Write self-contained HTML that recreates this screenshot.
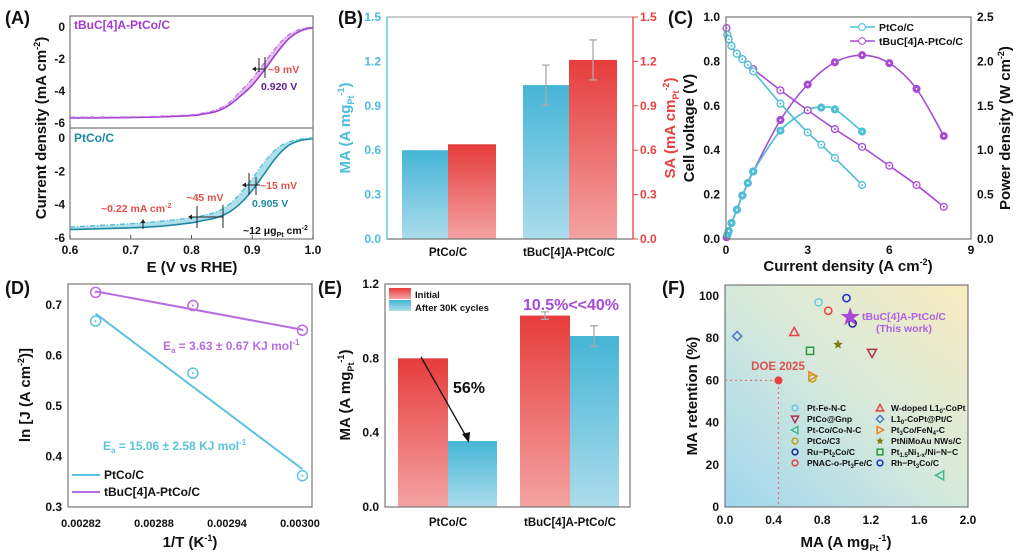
<!DOCTYPE html>
<html><head><meta charset="utf-8"><style>
html,body{margin:0;padding:0;background:#fff}
svg{display:block;font-family:"Liberation Sans",Arial,sans-serif;font-weight:bold}
</style></head><body>
<svg id="fig" width="1020" height="553" viewBox="0 0 1020 553" xmlns="http://www.w3.org/2000/svg">
<defs>
<linearGradient id="gBlue" x1="0" y1="0" x2="0" y2="1"><stop offset="0" stop-color="#45b5d6"/><stop offset="1" stop-color="#acdcec"/></linearGradient>
<linearGradient id="gRed" x1="0" y1="0" x2="0" y2="1"><stop offset="0" stop-color="#e63c3c"/><stop offset="1" stop-color="#f4a3a3"/></linearGradient>
<linearGradient id="gF" x1="0" y1="1" x2="1" y2="0"><stop offset="0" stop-color="#9fd6ee"/><stop offset="0.5" stop-color="#d6e9dc"/><stop offset="1" stop-color="#f8ecc0"/></linearGradient>
</defs>
<g id="root"></g>
</svg>
<script>
// ---------- data ----------
const aE = [0.6,0.7,0.75,0.8,0.82,0.84,0.86,0.88,0.9,0.92,0.94,0.96,0.98,1.0];
const aTopSolid = [-5.75,-5.72,-5.68,-5.6,-5.5,-5.35,-5.0,-4.4,-3.7,-2.75,-1.7,-0.8,-0.3,-0.1];
const aTopDash  = [-5.7,-5.68,-5.63,-5.55,-5.43,-5.25,-4.85,-4.1,-3.3,-2.3,-1.3,-0.55,-0.2,-0.05];
const aBotSolid = [-5.55,-5.45,-5.35,-5.15,-5.0,-4.85,-4.55,-4.0,-3.2,-2.2,-1.2,-0.5,-0.2,-0.1];
const aBotDash  = [-5.4,-5.2,-5.05,-4.85,-4.7,-4.5,-4.1,-3.4,-2.5,-1.5,-0.7,-0.3,-0.12,-0.05];
const bCats = ["PtCo/C","tBuC[4]A-PtCo/C"];
const bMA = [0.60,1.04];
const bSA = [0.64,1.21];
const bMAerr = [0,0.135];
const bSAerr = [0,0.135];
const cI_Pt = [0.05,0.1,0.2,0.4,0.6,0.8,1,2,3,3.5,4,5];
const cV_Pt = [0.92,0.9,0.87,0.835,0.81,0.785,0.755,0.61,0.48,0.425,0.365,0.243];
const cP_Pt = [0.05,0.09,0.18,0.33,0.49,0.63,0.76,1.22,1.45,1.48,1.46,1.21];
const cI_Bu = [0.02,0.05,0.1,0.2,0.4,0.6,0.8,1,2,3,4,5,6,7,8];
const cV_Bu = [0.95,0.92,0.9,0.87,0.835,0.81,0.785,0.765,0.67,0.58,0.495,0.415,0.33,0.243,0.145];
const cP_Bu = [0.02,0.05,0.09,0.18,0.33,0.49,0.63,0.76,1.34,1.74,1.99,2.07,1.98,1.69,1.16];
const dT = [0.002832,0.002912,0.003002];
const dPt = [0.668,0.565,0.362];
const dBu = [0.725,0.699,0.65];
const dFitPt = [0.683,0.375];
const dFitBu = [0.727,0.651];
const eCats = ["PtCo/C","tBuC[4]A-PtCo/C"];
const eInit = [0.80,1.03];
const eAfter = [0.355,0.92];
const eInitErr = [0,0.02];
const eAfterErr = [0,0.055];
const fNames = ["Pt-Fe-N-C","PNAC-o-Pt3Fe/C","Rh-Pt3Co/C","Ru-Pt2Co/C","W-doped L10-CoPt","L10-CoPt@Pt/C","PtNiMoAu NWs/C","Pt1.5Ni/Ni-N-C","PtCo@Gnp","Pt3Co/FeN4-C","PtCo/C3","Pt-Co/Co-N-C"];
const fMA  = [0.77,0.85,1.0,1.05,0.57,0.1,0.93,0.70,1.21,0.72,0.72,1.77];
const fRet = [97,93,99,87,83,81,77,74,73,62,61,15];
const fStar = [1.03,90];
const fDOE = [0.44,60];

// ---------- helpers ----------
const NS="http://www.w3.org/2000/svg";
const root=document.getElementById('root');
function mk(tag,attrs,name){
  const e=document.createElementNS(NS,tag);
  for(const k in attrs) e.setAttribute(k,attrs[k]);
  
  
  root.appendChild(e);
  return e;
}
function txt(x,y,s,name,o){
  o=o||{};
  const t=mk('text',{x:x,y:y,'font-size':o.fs||12,fill:o.fill||'#111','text-anchor':o.anchor||'middle'},name);
  if(o.rot) t.setAttribute('transform','rotate('+o.rot+' '+x+' '+y+')');
  t.innerHTML=s; return t;
}
function smooth(pts){
  let d='M'+pts[0][0]+','+pts[0][1];
  for(let i=0;i<pts.length-1;i++){
    const p0=pts[i-1]||pts[i],p1=pts[i],p2=pts[i+1],p3=pts[i+2]||p2;
    const c1=[p1[0]+(p2[0]-p0[0])/6,p1[1]+(p2[1]-p0[1])/6];
    const c2=[p2[0]-(p3[0]-p1[0])/6,p2[1]-(p3[1]-p1[1])/6];
    d+=' C'+c1[0]+','+c1[1]+' '+c2[0]+','+c2[1]+' '+p2[0]+','+p2[1];
  }
  return d;
}
function frame(x1,y1,x2,y2,name){mk('rect',{x:x1,y:y1,width:x2-x1,height:y2-y1,fill:'none',stroke:'#777','stroke-width':1.2},name);}
const SUP=s=>'<tspan dy="-6" font-size="9">'+s+'</tspan><tspan dy="6">';
const MAT='MA (A mg<tspan dy="4" font-size="9">Pt</tspan><tspan dy="-10" font-size="9">-1</tspan><tspan dy="6">)</tspan>';

// ---------- Panel A ----------
const xA=e=>70+(e-0.6)/0.4*243;
const yAt=j=>26-j*16;
const yAb=j=>137-j*16.67;
txt(5,24,'(A)','panel-a-label',{fs:18,anchor:'start'});
const topS=aE.map((e,i)=>[xA(e),yAt(aTopSolid[i])]);
const topD=aE.map((e,i)=>[xA(e),yAt(aTopDash[i])]);
const botS=aE.map((e,i)=>[xA(e),yAb(aBotSolid[i])]);
const botD=aE.map((e,i)=>[xA(e),yAb(aBotDash[i])]);
mk('path',{d:smooth(topD)+' L'+smooth(topS.slice().reverse()).slice(1),fill:'#d9a6ee',opacity:0.7},'top-shaded-region');
mk('path',{d:smooth(botD)+' L'+smooth(botS.slice().reverse()).slice(1),fill:'#8fd2e4',opacity:0.7},'bottom-shaded-region');
mk('path',{d:smooth(topS),fill:'none',stroke:'#a23cd0','stroke-width':1.6},'tbuc-lsv-initial');
mk('path',{d:smooth(topD),fill:'none',stroke:'#c070e0','stroke-width':1.3,'stroke-dasharray':'5,2,1,2'},'tbuc-lsv-after');
mk('path',{d:smooth(botS),fill:'none',stroke:'#1f8aa6','stroke-width':1.6},'ptco-lsv-initial');
mk('path',{d:smooth(botD),fill:'none',stroke:'#4bbdd8','stroke-width':1.3,'stroke-dasharray':'5,2,1,2'},'ptco-lsv-after');
frame(70,16,313,239,'panel-a-frame');
mk('line',{x1:70,y1:128,x2:313,y2:128,stroke:'#777','stroke-width':1.2},'panel-a-divider');
[0.6,0.7,0.8,0.9,1.0].forEach(v=>{mk('line',{x1:xA(v),y1:239,x2:xA(v),y2:235,stroke:'#555'},'a-xtick');txt(xA(v),254,v.toFixed(1),'a-xtick-label',{fs:12});});
[0,-2,-4,-6].forEach(v=>{txt(65,yAt(v)+5,v,'a-top-ytick-label',{fs:12,anchor:'end'});txt(65,yAb(v)+5,v,'a-bot-ytick-label',{fs:12,anchor:'end'});});
txt(192,272,'E (V vs RHE)','a-x-axis-title',{fs:15});
txt(46,128,'Current density (mA cm'+SUP('-2')+')</tspan>','a-y-axis-title',{fs:15,rot:-90});
txt(74,29,'tBuC[4]A-PtCo/C','a-top-series-label',{fs:12,fill:'#a23cd0',anchor:'start'});
txt(74,142,'PtCo/C','a-bottom-series-label',{fs:12,fill:'#1f8aa6',anchor:'start'});
[[259,58,259,72],[265,57,265,78],[249,173,249,195],[256,177,256,195],[197,206,197,228],[223,205,223,228]].forEach(l=>mk('line',{x1:l[0],y1:l[1],x2:l[2],y2:l[3],stroke:'#222','stroke-width':1},'a-marker-line'));
mk('line',{x1:265,y1:69,x2:254,y2:69,stroke:'#222'},'a-shift-arrow');
mk('path',{d:'M252,69 l4,-2.5 v5 z',fill:'#222'},'a-arrowhead');
mk('line',{x1:260,y1:185,x2:244,y2:185,stroke:'#222'},'a-shift-arrow');
mk('path',{d:'M242,185 l4,-2.5 v5 z',fill:'#222'},'a-arrowhead');
mk('line',{x1:223,y1:217,x2:190,y2:217,stroke:'#222'},'a-shift-arrow');
mk('path',{d:'M188,217 l4,-2.5 v5 z',fill:'#222'},'a-arrowhead');
mk('line',{x1:143,y1:229,x2:143,y2:222,stroke:'#222'},'a-current-arrow');
mk('path',{d:'M143,219 l-2.5,4 h5 z',fill:'#222'},'a-arrowhead');
txt(268,73,'~9 mV','a-shift-9mv',{fs:10.5,fill:'#e0504a',anchor:'start'});
txt(261,90,'0.920 V','a-halfwave-top',{fs:10.5,fill:'#5a1f8f',anchor:'start'});
txt(260,189,'~15 mV','a-shift-15mv',{fs:10.5,fill:'#e0504a',anchor:'start'});
txt(252,207,'0.905 V','a-halfwave-bottom',{fs:10.5,fill:'#1f8aa6',anchor:'start'});
txt(205,201,'~45 mV','a-shift-45mv',{fs:10.5,fill:'#e0504a'});
txt(101,212,'~0.22 mA cm<tspan dy="-4" font-size="7">-2</tspan>','a-current-shift',{fs:10.5,fill:'#e0504a',anchor:'start'});
txt(243,234,'~12 μg<tspan dy="3" font-size="7">Pt</tspan><tspan dy="-3"> cm</tspan><tspan dy="-4" font-size="7">-2</tspan>','a-loading-label',{fs:10.5,anchor:'start'});

// ---------- Panel B ----------
const yB=v=>239-v/1.5*222;
txt(338,24,'(B)','panel-b-label',{fs:18,anchor:'start'});
const bX=[402,523];
bCats.forEach((c,i)=>{
  mk('rect',{x:bX[i],y:yB(bMA[i]),width:46,height:239-yB(bMA[i]),fill:'url(#gBlue)'},'bar-ma-'+i);
  mk('rect',{x:bX[i]+46,y:yB(bSA[i]),width:48,height:239-yB(bSA[i]),fill:'url(#gRed)'},'bar-sa-'+i);
  if(bMAerr[i]>0){const cx=bX[i]+23;mk('path',{d:`M${cx},${yB(bMA[i]+bMAerr[i])}V${yB(bMA[i]-bMAerr[i])}M${cx-4},${yB(bMA[i]+bMAerr[i])}h8M${cx-4},${yB(bMA[i]-bMAerr[i])}h8`,stroke:'#aaa','stroke-width':1.3,fill:'none'},'error-bar-ma');}
  if(bSAerr[i]>0){const cx=bX[i]+70;mk('path',{d:`M${cx},${yB(bSA[i]+bSAerr[i])}V${yB(bSA[i]-bSAerr[i])}M${cx-4},${yB(bSA[i]+bSAerr[i])}h8M${cx-4},${yB(bSA[i]-bSAerr[i])}h8`,stroke:'#aaa','stroke-width':1.3,fill:'none'},'error-bar-sa');}
  txt(bX[i]+46,256,c,'b-category-label',{fs:11.5});
});
mk('line',{x1:387,y1:17,x2:633,y2:17,stroke:'#999'},'b-top-axis');
mk('line',{x1:387,y1:239,x2:633,y2:239,stroke:'#777','stroke-width':1.3},'b-x-axis');
mk('line',{x1:387,y1:17,x2:387,y2:239,stroke:'#4bbcdc','stroke-width':1.3},'b-left-axis');
mk('line',{x1:633,y1:17,x2:633,y2:239,stroke:'#e84040','stroke-width':1.3},'b-right-axis');
[0,0.3,0.6,0.9,1.2,1.5].forEach(v=>{
  txt(381,yB(v)+4,v.toFixed(1),'b-left-tick-label',{fs:12,fill:'#4bbcdc',anchor:'end'});
  txt(640,yB(v)+4,v.toFixed(1),'b-right-tick-label',{fs:12,fill:'#e84040',anchor:'start'});
  mk('line',{x1:633,y1:yB(v),x2:638,y2:yB(v),stroke:'#e84040'},'b-right-tick');
});
txt(350,128,MAT,'b-left-axis-title',{fs:15,fill:'#4bbcdc',rot:-90});
txt(675,128,'SA (mA cm<tspan dy="4" font-size="9">Pt</tspan><tspan dy="-10" font-size="9">-2</tspan><tspan dy="6">)</tspan>','b-right-axis-title',{fs:15,fill:'#e84040',rot:-90});

// ---------- Panel C ----------
const xC=i=>726+i*27.22;
const yCv=v=>239-v*222;
const yCp=p=>239-p/2.5*222;
txt(668,24,'(C)','panel-c-label',{fs:18,anchor:'start'});
const cyan='#4cbfd6',purp='#a74ad6';
function series(I,Y,ys,col,name,filled){
  const pts=I.map((x,i)=>[xC(x),ys(Y[i])]);
  mk('path',{d:smooth(pts),fill:'none',stroke:col,'stroke-width':1.6},name+'-line');
  pts.forEach(p=>{mk('circle',{cx:p[0],cy:p[1],r:3.4,fill:filled?col:'#fff',stroke:col,'stroke-width':1.3},name+'-point');
    mk('circle',{cx:p[0],cy:p[1],r:1,fill:filled?'#fff':col},name+'-point-dot');});
}
series(cI_Bu,cP_Bu,yCp,purp,'tbuc-power',true);
series(cI_Pt,cP_Pt,yCp,cyan,'ptco-power',true);
series(cI_Bu,cV_Bu,yCv,purp,'tbuc-voltage',false);
series(cI_Pt,cV_Pt,yCv,cyan,'ptco-voltage',false);
frame(726,17,971,239,'panel-c-frame');
[0,3,6,9].forEach(v=>txt(xC(v),254,v,'c-xtick-label',{fs:12}));
[0,0.2,0.4,0.6,0.8,1.0].forEach(v=>txt(720,yCv(v)+4,v.toFixed(1),'c-left-tick-label',{fs:12,anchor:'end'}));
[0,0.5,1.0,1.5,2.0,2.5].forEach(v=>txt(977,yCp(v)+4,v.toFixed(1),'c-right-tick-label',{fs:12,anchor:'start'}));
txt(848,271,'Current density (A cm'+SUP('-2')+')</tspan>','c-x-axis-title',{fs:15});
txt(694,128,'Cell voltage (V)','c-left-axis-title',{fs:15,rot:-90});
txt(1010,128,'Power density (W cm'+SUP('-2')+')</tspan>','c-right-axis-title',{fs:15,rot:-90});
mk('line',{x1:850,y1:27,x2:875,y2:27,stroke:cyan,'stroke-width':1.6},'legend-ptco-line');
mk('circle',{cx:862,cy:27,r:3.4,fill:'#fff',stroke:cyan},'legend-ptco-marker');
txt(879,31,'PtCo/C','legend-ptco-label',{fs:10.5,anchor:'start'});
mk('line',{x1:850,y1:41,x2:875,y2:41,stroke:purp,'stroke-width':1.6},'legend-tbuc-line');
mk('circle',{cx:862,cy:41,r:3.4,fill:'#fff',stroke:purp},'legend-tbuc-marker');
txt(879,45,'tBuC[4]A-PtCo/C','legend-tbuc-label',{fs:10.5,anchor:'start'});

// ---------- Panel D ----------
const xD=t=>81+(t-0.00282)/0.00018*219;
const yD=v=>507-(v-0.3)*505;
txt(5,294,'(D)','panel-d-label',{fs:18,anchor:'start'});
frame(68,284,312,507,'panel-d-frame');
const dC='#5cc3dc',dP='#b86ee0';
mk('line',{x1:xD(dT[0]),y1:yD(dFitPt[0]),x2:xD(dT[2]),y2:yD(dFitPt[1]),stroke:dC,'stroke-width':2},'d-ptco-fit');
mk('line',{x1:xD(dT[0]),y1:yD(dFitBu[0]),x2:xD(dT[2]),y2:yD(dFitBu[1]),stroke:dP,'stroke-width':2},'d-tbuc-fit');
dT.forEach((t,i)=>{
  mk('circle',{cx:xD(t),cy:yD(dPt[i]),r:5,fill:'none',stroke:dC,'stroke-width':1.5},'d-ptco-point');
  mk('circle',{cx:xD(t),cy:yD(dPt[i]),r:1,fill:dC},'d-ptco-point-dot');
  mk('circle',{cx:xD(t),cy:yD(dBu[i]),r:5,fill:'none',stroke:dP,'stroke-width':1.5},'d-tbuc-point');
  mk('circle',{cx:xD(t),cy:yD(dBu[i]),r:1,fill:dP},'d-tbuc-point-dot');
});
[0.00282,0.00288,0.00294,0.003].forEach(v=>txt(xD(v),527,v.toFixed(5),'d-xtick-label',{fs:11}));
[0.3,0.4,0.5,0.6,0.7].forEach(v=>txt(62,yD(v)+4,v.toFixed(1),'d-ytick-label',{fs:12,anchor:'end'}));
txt(190,547,'1/T (K'+SUP('-1')+')</tspan>','d-x-axis-title',{fs:15});
txt(30,395,'ln [J (A cm'+SUP('-2')+')]</tspan>','d-y-axis-title',{fs:15,rot:-90});
txt(163,350,'E<tspan dy="3" font-size="8">a</tspan><tspan dy="-3"> = 3.63 ± 0.67 KJ mol</tspan><tspan dy="-5" font-size="8">-1</tspan>','d-tbuc-ea',{fs:12,fill:dP,anchor:'start'});
txt(103,450,'E<tspan dy="3" font-size="8">a</tspan><tspan dy="-3"> = 15.06 ± 2.58 KJ mol</tspan><tspan dy="-5" font-size="8">-1</tspan>','d-ptco-ea',{fs:12,fill:dC,anchor:'start'});
mk('line',{x1:72,y1:475,x2:100,y2:475,stroke:dC,'stroke-width':2},'d-legend-ptco-line');
txt(104,479,'PtCo/C','d-legend-ptco-label',{fs:12,anchor:'start'});
mk('line',{x1:72,y1:492,x2:100,y2:492,stroke:dP,'stroke-width':2},'d-legend-tbuc-line');
txt(104,496,'tBuC[4]A-PtCo/C','d-legend-tbuc-label',{fs:12,anchor:'start'});

// ---------- Panel E ----------
const yE=v=>507-v/1.2*223;
txt(318,294,'(E)','panel-e-label',{fs:18,anchor:'start'});
const eX=[398,520];
eCats.forEach((c,i)=>{
  mk('rect',{x:eX[i],y:yE(eInit[i]),width:50,height:507-yE(eInit[i]),fill:'url(#gRed)'},'bar-initial-'+i);
  mk('rect',{x:eX[i]+50,y:yE(eAfter[i]),width:49,height:507-yE(eAfter[i]),fill:'url(#gBlue)'},'bar-after-'+i);
  if(eInitErr[i]>0){const cx=eX[i]+25;mk('path',{d:`M${cx},${yE(eInit[i]+eInitErr[i])}V${yE(eInit[i]-eInitErr[i])}M${cx-4},${yE(eInit[i]+eInitErr[i])}h8M${cx-4},${yE(eInit[i]-eInitErr[i])}h8`,stroke:'#aaa','stroke-width':1.3,fill:'none'},'error-bar-initial');}
  if(eAfterErr[i]>0){const cx=eX[i]+74;mk('path',{d:`M${cx},${yE(eAfter[i]+eAfterErr[i])}V${yE(eAfter[i]-eAfterErr[i])}M${cx-4},${yE(eAfter[i]+eAfterErr[i])}h8M${cx-4},${yE(eAfter[i]-eAfterErr[i])}h8`,stroke:'#aaa','stroke-width':1.3,fill:'none'},'error-bar-after');}
  txt(eX[i]+50,526,c,'e-category-label',{fs:11.5});
});
mk('rect',{x:385,y:284,width:245,height:223,fill:'none',stroke:'#777','stroke-width':1.2},'panel-e-frame');
[0,0.4,0.8,1.2].forEach(v=>txt(379,yE(v)+4,v.toFixed(1),'e-ytick-label',{fs:12,anchor:'end'}));
txt(350,395,MAT,'e-y-axis-title',{fs:15,rot:-90});
mk('rect',{x:389,y:288,width:22,height:11,fill:'url(#gRed)'},'e-legend-initial-swatch');
txt(415,298,'Initial','e-legend-initial-label',{fs:9.5,anchor:'start'});
mk('rect',{x:389,y:300,width:22,height:11,fill:'url(#gBlue)'},'e-legend-after-swatch');
txt(415,311,'After 30K cycles','e-legend-after-label',{fs:9.5,anchor:'start'});
txt(571,310,'10.5%&lt;&lt;40%','e-retention-comparison',{fs:16,fill:'#a74ad6'});
txt(469,393,'56%','e-loss-label',{fs:16});
mk('line',{x1:421,y1:357,x2:467,y2:438,stroke:'#111','stroke-width':1.3},'e-loss-arrow');
mk('path',{d:'M469,443 L462,434 L470,432 Z',fill:'#111'},'e-loss-arrowhead');

// ---------- Panel F ----------
const xF=m=>725+m/2*243;
const yF=r=>507-r*2.11;
txt(662,294,'(F)','panel-f-label',{fs:18,anchor:'start'});
mk('rect',{x:725,y:285,width:243,height:222,fill:'url(#gF)',stroke:'#777','stroke-width':1.2},'panel-f-plot-area');
mk('path',{d:`M725,${yF(fDOE[1])}H${xF(fDOE[0])}V507`,stroke:'#e87070','stroke-width':1.2,'stroke-dasharray':'2,3',fill:'none'},'f-doe-guide');
const fCol=['#6cc8e8','#e84040','#1a2bd8','#1a2890','#e84040','#4a78c8','#7a7a10','#2a9a40','#b03050','#f08020','#c8a020','#40b890'];
const fShape=['c','c','c','c','tu','dm','st','sq','td','tr','c','tl'];
function marker(x,y,s,col,name,sz){
  sz=sz||1;let d;
  if(s==='c'){mk('circle',{cx:x,cy:y,r:3.6*sz,fill:'none',stroke:col,'stroke-width':1.5},name);return;}
  if(s==='sq'){mk('rect',{x:x-3.6*sz,y:y-3.6*sz,width:7.2*sz,height:7.2*sz,fill:'none',stroke:col,'stroke-width':1.5},name);return;}
  const a=4.5*sz;
  if(s==='tu') d=`M${x},${y-a}L${x+a},${y+a*0.8}L${x-a},${y+a*0.8}Z`;
  if(s==='td') d=`M${x},${y+a}L${x+a},${y-a*0.8}L${x-a},${y-a*0.8}Z`;
  if(s==='tr') d=`M${x+a},${y}L${x-a*0.8},${y-a}L${x-a*0.8},${y+a}Z`;
  if(s==='tl') d=`M${x-a},${y}L${x+a*0.8},${y-a}L${x+a*0.8},${y+a}Z`;
  if(s==='dm') d=`M${x},${y-a}L${x+a},${y}L${x},${y+a}L${x-a},${y}Z`;
  if(s==='st'){const p=[];for(let k=0;k<10;k++){const an=-Math.PI/2+k*Math.PI/5,r=k%2?2.2*sz:5*sz;p.push((x+r*Math.cos(an)).toFixed(1)+','+(y+r*Math.sin(an)).toFixed(1));}mk('polygon',{points:p.join(' '),fill:col},name);return;}
  mk('path',{d:d,fill:'none',stroke:col,'stroke-width':1.5},name);
}
fMA.forEach((m,i)=>marker(xF(m),yF(fRet[i]),fShape[i],fCol[i],'f-point-'+fNames[i].toLowerCase().replace(/[^a-z0-9]+/g,'-')));
mk('circle',{cx:xF(fDOE[0]),cy:yF(fDOE[1]),r:4,fill:'#e84040'},'f-doe-point');
{const x=xF(fStar[0]),y=yF(fStar[1]);const p=[];for(let k=0;k<10;k++){const a=-Math.PI/2+k*Math.PI/5,r=k%2?4:10;p.push((x+r*Math.cos(a)).toFixed(1)+','+(y+r*Math.sin(a)).toFixed(1));}mk('polygon',{points:p.join(' '),fill:'#a74ad6'},'f-this-work-star');}
txt(862,320,'tBuC[4]A-PtCo/C','f-this-work-label',{fs:10.5,fill:'#b060e0',anchor:'start'});
txt(876,332,'(This work)','f-this-work-note',{fs:10.5,fill:'#b060e0',anchor:'start'});
txt(778,370,'DOE 2025','f-doe-label',{fs:11.5,fill:'#e05050'});
[0,0.4,0.8,1.2,1.6,2.0].forEach(v=>txt(xF(v),524,v.toFixed(1),'f-xtick-label',{fs:12}));
[0,20,40,60,80,100].forEach(v=>txt(719,yF(v)+4,v,'f-ytick-label',{fs:12,anchor:'end'}));
txt(846,547,MAT,'f-x-axis-title',{fs:15});
txt(697,396,'MA retention (%)','f-y-axis-title',{fs:15,rot:-90});
const sb=(s)=>'<tspan dy="2" font-size="6">'+s+'</tspan><tspan dy="-2">';
const legL=[['Pt-Fe-N-C','c','#6cc8e8'],['PtCo@Gnp','td','#b03050'],['Pt-Co/Co-N-C','tl','#40b890'],['PtCo/C3','c','#c8a020'],['Ru−Pt'+sb('2')+'Co/C</tspan>','c','#1a2890'],['PNAC-o-Pt'+sb('3')+'Fe/C</tspan>','c','#e84040']];
const legR=[['W-doped L1'+sb('0')+'-CoPt</tspan>','tu','#e84040'],['L1'+sb('0')+'-CoPt@Pt/C</tspan>','dm','#4a78c8'],['Pt'+sb('3')+'Co/FeN</tspan>'+sb('4')+'-C</tspan>','tr','#f08020'],['PtNiMoAu NWs/C','st','#7a7a10'],['Pt'+sb('1.5')+'Ni</tspan>'+sb('1-x')+'/Ni−N−C</tspan>','sq','#2a9a40'],['Rh−Pt'+sb('3')+'Co/C</tspan>','c','#1a2bd8']];
legL.forEach((l,i)=>{const y=408+i*11;marker(795,y,l[1],l[2],'f-legend-marker',0.8);txt(807,y+3,l[0],'f-legend-label',{fs:8.5,anchor:'start'});});
legR.forEach((l,i)=>{const y=408+i*11;marker(880,y,l[1],l[2],'f-legend-marker',0.8);txt(891,y+3,l[0],'f-legend-label',{fs:8.5,anchor:'start'});});
</script>
</body></html>
